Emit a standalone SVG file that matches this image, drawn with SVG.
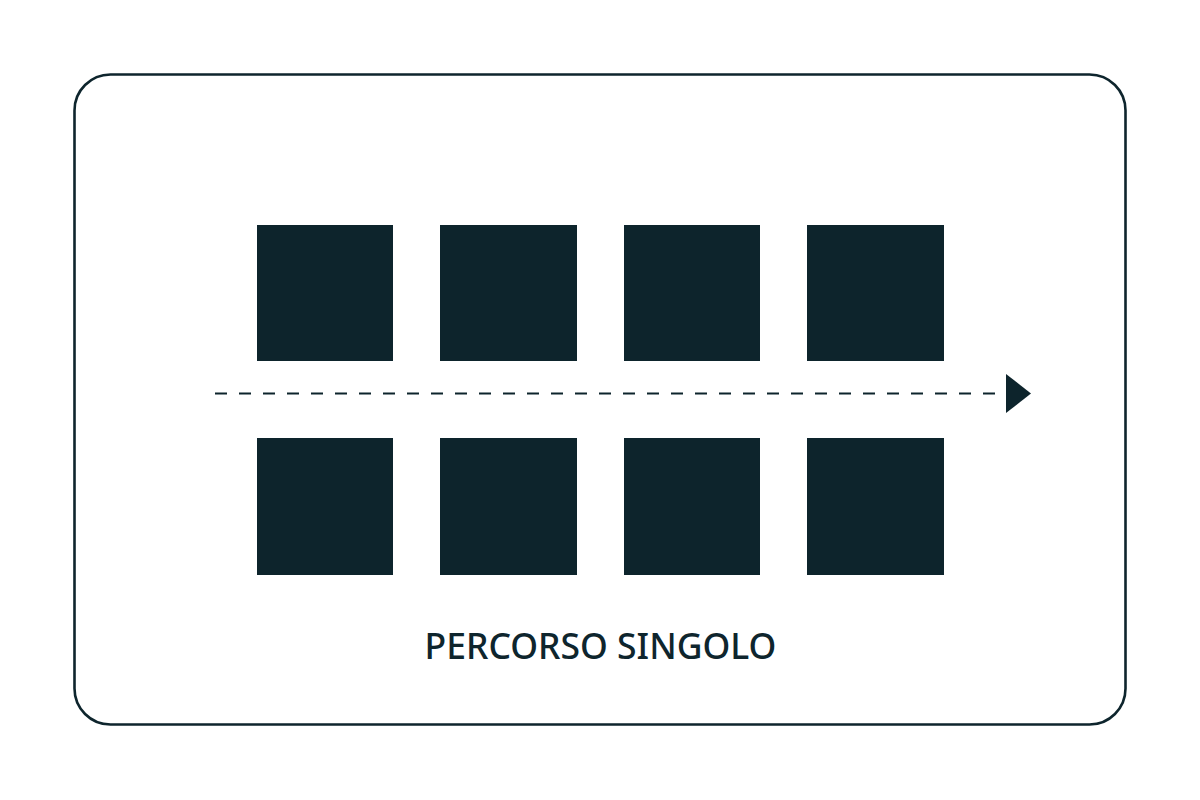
<svg xmlns="http://www.w3.org/2000/svg" width="1200" height="800" viewBox="0 0 1200 800">
<style>
.frame{fill:#ffffff;stroke:#0e252d;stroke-width:2.6}
.sq{fill:#0d242c}
.lbl{font-family:"Noto Sans","Open Sans",sans-serif;font-size:35.5px;font-weight:500;fill:#0e252d;text-anchor:middle}
</style>
<defs>
<marker id="ah" markerWidth="25" markerHeight="39" refX="0" refY="19.5" orient="auto" markerUnits="userSpaceOnUse">
<path d="M0,0 L25,19.5 L0,39 Z" fill="#0d242c"/>
</marker>
</defs>
<rect width="1200" height="800" fill="#ffffff"/>
<g id="frame"><rect class="frame" x="74.5" y="74.5" width="1051" height="650" rx="36"/></g>
<g id="n1"><rect class="sq" x="257" y="225" width="136" height="136"/></g>
<g id="n2"><rect class="sq" x="440" y="225" width="137" height="136"/></g>
<g id="n3"><rect class="sq" x="624" y="225" width="136" height="136"/></g>
<g id="n4"><rect class="sq" x="807" y="225" width="137" height="136"/></g>
<g id="n5"><rect class="sq" x="257" y="438" width="136" height="137"/></g>
<g id="n6"><rect class="sq" x="440" y="438" width="137" height="137"/></g>
<g id="n7"><rect class="sq" x="624" y="438" width="136" height="137"/></g>
<g id="n8"><rect class="sq" x="807" y="438" width="137" height="137"/></g>
<g id="connectors">
<line x1="215" y1="393.5" x2="1006" y2="393.5" stroke="#0d242c" stroke-width="2" stroke-dasharray="12 12" marker-end="url(#ah)"/>
</g>
<g id="label"><text class="lbl" x="600.5" y="659">PERCORSO SINGOLO</text></g>
</svg>
